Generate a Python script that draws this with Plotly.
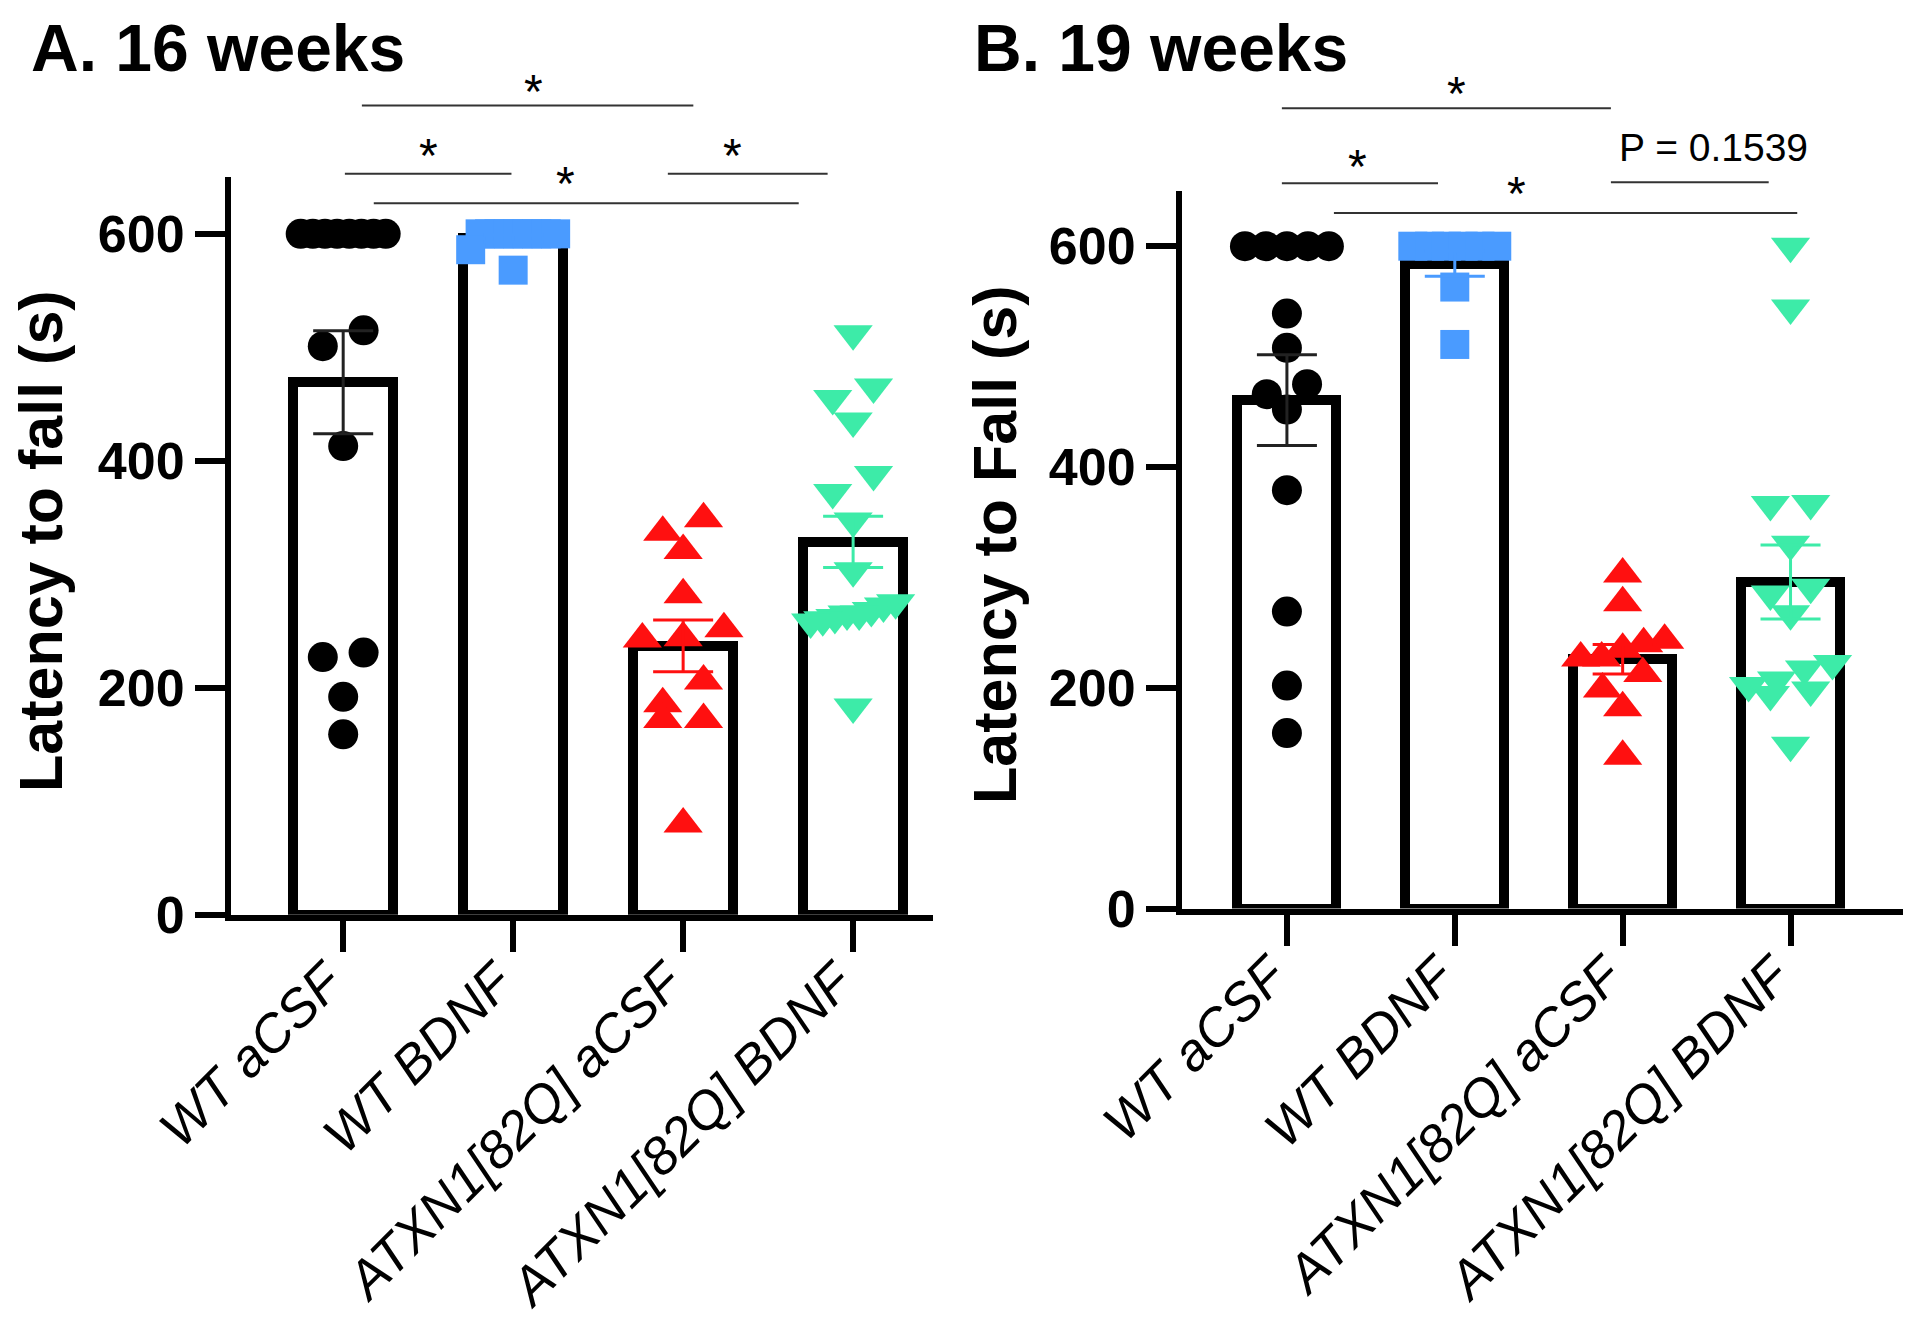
import numpy as np
import plotly.graph_objects as go

# ---------------- data ----------------
group_names = ["WT aCSF", "WT BDNF", "ATXN1[82Q] aCSF", "ATXN1[82Q] BDNF"]
tick_labels = ["<i>WT aCSF</i>", "<i>WT BDNF</i>", "<i>ATXN1[82Q] aCSF</i>", "<i>ATXN1[82Q] BDNF</i>"]
y_ticks = [0, 200, 400, 600]

wk16_wt_acsf = [600, 600, 600, 600, 600, 600, 600, 600, 515, 501, 413, 231, 227, 192, 159]
wk16_wt_bdnf = [600, 600, 600, 600, 600, 600, 600, 600, 600, 586, 568]
wk16_atxn_acsf = [349, 337, 321, 282, 252, 244, 243, 206, 186, 172, 172, 80]
wk16_atxn_bdnf = [512, 465, 455, 435, 388, 372, 347, 303, 275, 272, 268, 265, 265, 262, 260, 258, 183]

wk19_wt_acsf = [600, 600, 600, 600, 600, 539, 508, 475, 466, 452, 379, 269, 202, 159]
wk19_wt_bdnf = [600, 600, 600, 600, 600, 600, 563, 511]
wk19_atxn_acsf = [303, 277, 243, 240, 235, 227, 227, 213, 199, 182, 138]
wk19_atxn_bdnf = [600, 544, 367, 366, 330, 291, 285, 267, 222, 217, 207, 202, 198, 194, 148]

# significance comparisons: (x_start, x_end, line_value, label_x, label_value, label)
wk16_comparisons = [
    (0.11, 2.06, 713, 1.12, 734, "*"),
    (0.01, 0.99, 653, 0.50, 678, "*"),
    (1.91, 2.85, 653, 2.29, 678, "*"),
    (0.18, 2.68, 627, 1.31, 653, "*"),
]
wk19_comparisons = [
    (-0.03, 1.93, 725, 1.01, 747, "*"),
    (-0.03, 0.90, 657, 0.42, 681, "*"),
    (1.93, 2.87, 658, 2.54, 689, "P = 0.1539"),
    (0.28, 3.04, 630, 1.37, 657, "*"),
]

# ---------------- styles ----------------
colors = ["#000000", "#4A9BFF", "#FF1010", "#3DEBA8"]
err_colors = ["#222222", "#4A9BFF", "#FF1010", "#3DEBA8"]
symbols = ["circle", "square", "triangle-up", "triangle-down"]
sizes = [30, 29, 34, 34]
FONT = "Liberation Sans, Arial, sans-serif"
W, H = 1920, 1325
OFF = 8  # page body margin offset


def px(v):
    return v - OFF


panels = [
    dict(data=[wk16_wt_acsf, wk16_wt_bdnf, wk16_atxn_acsf, wk16_atxn_bdnf],
         comps=wk16_comparisons, xdom=[px(231) / W, px(933) / W], xr=[-0.66, 3.47],
         ydom=[(H - px(914.7)) / H, (H - px(177.1)) / H], title="A. 16 weeks", tx=21 / W,
         ytitle="Latency to fall (s)", ytx=33 / W, yty=(H - px(541)) / H),
    dict(data=[wk19_wt_acsf, wk19_wt_bdnf, wk19_atxn_acsf, wk19_atxn_bdnf],
         comps=wk19_comparisons, xdom=[px(1182) / W, px(1903) / W], xr=[-0.625, 3.67],
         ydom=[(H - px(908.6)) / H, (H - px(191.0)) / H], title="B. 19 weeks", tx=964 / W,
         ytitle="Latency to Fall (s)", ytx=987 / W, yty=(H - px(545)) / H),
]
YMAX = 650


def swarm_offsets(vals, h=22, col=0.24, maxw=0.5):
    n = len(vals)
    order = sorted(range(n), key=lambda i: -vals[i])
    bins, cur = [], [order[0]]
    for i in order[1:]:
        if vals[cur[0]] - vals[i] < h:
            cur.append(i)
        else:
            bins.append(cur)
            cur = [i]
    bins.append(cur)
    offs = [0.0] * n
    for b in bins:
        m = len(b)
        if m > 1:
            s = min(col, maxw / (m - 1))
            for k, i in enumerate(sorted(b, key=lambda j: vals[j])):
                offs[i] = (k - (m - 1) / 2) * s
    return offs


fig = go.Figure()
annotations = []
shapes = []

for p_i, p in enumerate(panels):
    xa = "x" if p_i == 0 else "x2"
    ya = "y" if p_i == 0 else "y2"
    means = [float(np.mean(d)) for d in p["data"]]
    sems = [float(np.std(d, ddof=1) / np.sqrt(len(d))) for d in p["data"]]

    fig.add_trace(go.Bar(
        x=list(range(4)), y=means, width=0.59, xaxis=xa, yaxis=ya,
        marker=dict(color="white", line=dict(color="black", width=10)),
        hoverinfo="skip"))

    for g, d in enumerate(p["data"]):
        offs = swarm_offsets(d)
        fig.add_trace(go.Scatter(
            x=[g + o for o in offs], y=d, mode="markers", xaxis=xa, yaxis=ya,
            cliponaxis=False,
            marker=dict(symbol=symbols[g], size=sizes[g], color=colors[g],
                        line=dict(width=0))))

    for g in range(4):
        fig.add_trace(go.Scatter(
            x=[g], y=[means[g]], mode="markers", xaxis=xa, yaxis=ya, cliponaxis=False,
            marker=dict(size=2, color="rgba(0,0,0,0)"),
            error_y=dict(type="data", array=[sems[g]], visible=True,
                         color=err_colors[g], thickness=3, width=30)))

    y0, y1 = p["ydom"]

    def vy(v, y0=y0, y1=y1):
        return y0 + v / YMAX * (y1 - y0)

    for (xs, xe, lv, lx, lyv, lab) in p["comps"]:
        shapes.append(dict(type="line", xref=xa, yref="paper", x0=xs, x1=xe,
                           y0=vy(lv), y1=vy(lv), line=dict(color="#333333", width=2)))
        if lab == "*":
            annotations.append(dict(text="*", xref=xa, yref="paper", x=lx, y=vy(lyv),
                                    xanchor="center", yanchor="middle", yshift=-10,
                                    showarrow=False, font=dict(size=48, color="black", family=FONT)))
        else:
            annotations.append(dict(text=lab, xref=xa, yref="paper", x=lx, y=vy(lyv),
                                    xanchor="center", yanchor="middle",
                                    showarrow=False, font=dict(size=39, color="black", family=FONT)))

    annotations.append(dict(text=p["title"], xref="paper", yref="paper", x=p["tx"], y=0.999,
                            xanchor="left", yanchor="top", showarrow=False,
                            font=dict(size=66, color="black", family=FONT, weight="bold")))
    annotations.append(dict(text=p["ytitle"], xref="paper", yref="paper", x=p["ytx"], y=p["yty"],
                            xanchor="center", yanchor="middle", textangle=-90, showarrow=False,
                            font=dict(size=61, color="black", family=FONT, weight="bold")))

axis_common_x = dict(showline=True, linewidth=6, linecolor="black", ticks="outside",
                     ticklen=31, tickwidth=6, tickcolor="black", tickvals=list(range(4)),
                     ticktext=tick_labels, tickangle=-45, showgrid=False, zeroline=False,
                     automargin=False, ticklabelstandoff=-22, ticklabelshift=-16,
                     tickfont=dict(size=53, color="black", family=FONT))
axis_common_y = dict(showline=True, linewidth=6, linecolor="black", ticks="outside",
                     ticklen=30, tickwidth=6, tickcolor="black", tickvals=y_ticks,
                     range=[0, YMAX], showgrid=False, zeroline=False, automargin=False,
                     tickfont=dict(size=52, color="black", family=FONT, weight="bold"))

fig.update_layout(
    width=W, height=H, margin=dict(l=0, r=0, t=0, b=0, autoexpand=False),
    paper_bgcolor="white", plot_bgcolor="white", showlegend=False,
    xaxis=dict(domain=panels[0]["xdom"], range=panels[0]["xr"], anchor="y", **axis_common_x),
    yaxis=dict(domain=panels[0]["ydom"], anchor="x", **axis_common_y),
    xaxis2=dict(domain=panels[1]["xdom"], range=panels[1]["xr"], anchor="y2", **axis_common_x),
    yaxis2=dict(domain=panels[1]["ydom"], anchor="x2", **axis_common_y),
    annotations=annotations, shapes=shapes, bargap=0,
)

fig.write_html("out.html")
